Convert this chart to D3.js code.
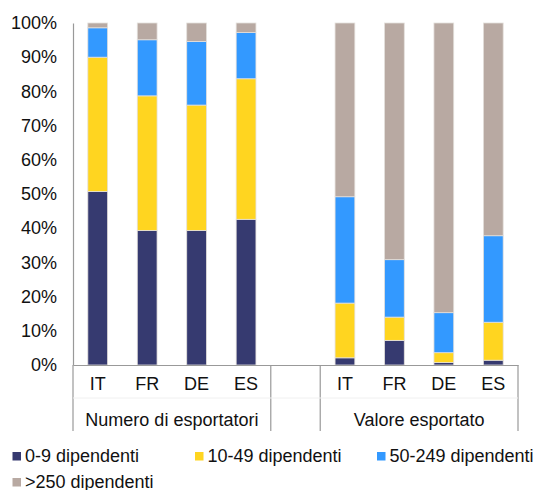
<!DOCTYPE html>
<html>
<head>
<meta charset="utf-8">
<script src="https://cdn.jsdelivr.net/npm/d3@7"></script>
<style>
	html, body { margin: 0; padding: 0; background: #fff; }
	svg { display: block; font-family: "Liberation Sans", Arial, sans-serif; }
</style>
</head>
<body>
<div id="chart"></div>
<script>
'use strict';

// data (shares in %)
const countries = ["IT", "FR", "DE", "ES"];
const groups = ["Numero di esportatori", "Valore esportato"];
const seriesNames = ["0-9 dipendenti", "10-49 dipendenti", "50-249 dipendenti", ">250 dipendenti"];
const seriesColors = ["#363a70", "#ffd520", "#3399ff", "#b8a9a2"];

// each array: IT FR DE ES (numero), then IT FR DE ES (valore)
const s0_9 = [50.7, 39.3, 39.3, 42.6, 2.1, 7.2, 0.7, 1.4];
const s10_49 = [39.3, 39.4, 36.7, 41.1, 16.0, 6.8, 2.9, 11.1];
const s50_249 = [8.6, 16.4, 18.6, 13.5, 31.1, 16.8, 11.7, 25.3];
const s250 = [1.4, 4.9, 5.4, 2.8, 50.8, 69.2, 84.7, 62.2];

const yTicks = [0, 10, 20, 30, 40, 50, 60, 70, 80, 90, 100];

const W = 536, H = 490;
const FONT = "18px";
const plotLeft = 73, plotRight = 518, plotTop = 23, plotBottom = 365;

// slot keys: 4 bars, a gap, 4 bars
const slots = [];
groups.forEach((g, gi) => {
	countries.forEach(c => slots.push({ key: gi + "-" + c, label: c, group: gi }));
	if (gi === 0) slots.push({ key: "gap", label: "", group: -1 });
});

const rows = [];
let k = 0;
slots.forEach(s => {
	if (s.group < 0) return;
	rows.push({ key: s.key, a: s0_9[k], b: s10_49[k], c: s50_249[k], d: s250[k] });
	k++;
});

const x = d3.scaleBand()
	.domain(slots.map(s => s.key))
	.range([plotLeft, plotRight])
	.paddingInner(0.6)
	.paddingOuter(0.3);

const y = d3.scaleLinear().domain([0, 100]).range([plotBottom, plotTop]);

const stack = d3.stack().keys(["a", "b", "c", "d"]);
const stacked = stack(rows);

const svg = d3.select("#chart").append("svg")
	.attr("width", W)
	.attr("height", H);

// bars
stacked.forEach((layer, li) => {
	svg.append("g")
		.attr("fill", seriesColors[li])
		.attr("stroke", "#e4e0dc")
		.attr("stroke-width", 0.8)
		.selectAll("rect")
		.data(layer)
		.join("rect")
			.attr("x", d => x(d.data.key))
			.attr("width", x.bandwidth())
			.attr("y", d => y(d[1]))
			.attr("height", d => y(d[0]) - y(d[1]));
});

// y axis
const yAxis = d3.axisLeft(y)
	.tickValues(yTicks)
	.tickFormat(d => d + "%")
	.tickSize(0)
	.tickPadding(16);

const gy = svg.append("g")
	.attr("transform", `translate(${plotLeft},0)`)
	.call(yAxis);
gy.select(".domain").attr("stroke", "#999").attr("stroke-width", 1.2);
gy.selectAll("text")
	.attr("font-size", FONT)
	.attr("font-family", "Liberation Sans, Arial, sans-serif")
	.attr("fill", "#111");

// x axis: baseline + category labels
const xAxis = d3.axisBottom(x)
	.tickFormat(key => slots.find(s => s.key === key).label)
	.tickSize(0)
	.tickPadding(12);

const gx = svg.append("g")
	.attr("transform", `translate(0,${plotBottom})`)
	.call(xAxis);
gx.select(".domain").attr("stroke", "#999").attr("stroke-width", 1.2);
gx.selectAll("text")
	.attr("font-size", FONT)
	.attr("font-family", "Liberation Sans, Arial, sans-serif")
	.attr("fill", "#111");

// separators between groups in the label area
const step = x.step();
const sepX = [plotLeft, plotLeft + step * 4, plotLeft + step * 5, plotRight];
svg.append("g")
	.attr("stroke", "#999")
	.attr("stroke-width", 1.2)
	.selectAll("line")
	.data(sepX)
	.join("line")
		.attr("x1", d => d)
		.attr("x2", d => d)
		.attr("y1", plotBottom)
		.attr("y2", 431);

// faint row divider
svg.append("line")
	.attr("x1", plotLeft).attr("x2", plotRight)
	.attr("y1", 398).attr("y2", 398)
	.attr("stroke", "#f0f0f0");

// group labels
svg.append("g")
	.selectAll("text")
	.data(groups)
	.join("text")
		.attr("x", (d, i) => i === 0 ? (sepX[0] + sepX[1]) / 2 : (sepX[2] + sepX[3]) / 2)
		.attr("y", 426)
		.attr("text-anchor", "middle")
		.attr("font-size", FONT)
		.attr("fill", "#111")
		.text(d => d);

// legend
const legendPos = [[12.5, 462], [195, 462], [377, 462], [12.5, 488]];
const legend = svg.append("g")
	.selectAll("g")
	.data(seriesNames)
	.join("g")
		.attr("transform", (d, i) => `translate(${legendPos[i][0]},${legendPos[i][1]})`);

legend.append("rect")
	.attr("x", 0)
	.attr("y", -10)
	.attr("width", 8.5)
	.attr("height", 8.5)
	.attr("fill", (d, i) => seriesColors[i]);

legend.append("text")
	.attr("x", 12.5)
	.attr("y", 0)
	.attr("font-size", FONT)
	.attr("fill", "#111")
	.text(d => d);
</script>
</body>
</html>
